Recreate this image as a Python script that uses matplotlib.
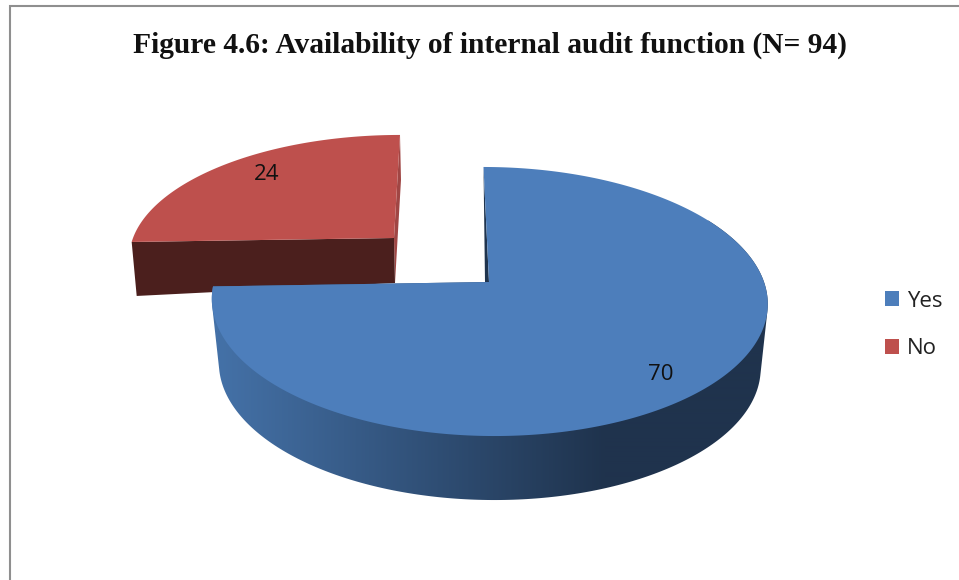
import numpy as np
import matplotlib
matplotlib.use("Agg")
import matplotlib.pyplot as plt
from matplotlib.patches import Patch, Polygon

# Survey responses
categories = ["Yes", "No"]
responses = [70, 24]
title_text = "Figure 4.6: Availability of internal audit function (N= 94)"

TOP_COLORS = ["#4D7EBB", "#BE504D"]
RED_FRONT = "#4B1F1D"
RED_EDGE = "#A04644"
BLUE_EDGE = "#1F344E"
FRAME = "#8F8F8F"

# Projection of each exploded slice: a tilted disc seen in perspective.
# Slice order follows `categories`; "low" entries describe the lower face.
VIEWS = [
    dict(cx=489, cy=282, bx=275, ay=131.7, shear=-5.5, k=0.145,
         low_cx=489, low_cy=346, low_bx=268, tilt=0),
    dict(cx=394, cy=238, bx=261, ay=118, shear=6, k=0.145,
         low_cx=395, low_cy=283, low_bx=257, tilt=9),
]
LABEL_SHIFT = [(-3, 13), (8, -3)]


def project(view, theta, radius=1.0, z=0.0):
    """Map a clockwise-from-north angle on the pie to figure pixels."""
    u = radius * np.sin(theta)
    v = radius * np.cos(theta)
    w = 1 + view["k"] * v
    cx = view["cx"] + (view["low_cx"] - view["cx"]) * z
    cy = view["cy"] + (view["low_cy"] - view["cy"]) * z
    bx = view["bx"] + (view["low_bx"] - view["bx"]) * z
    x = cx + bx * u / w + view["shear"] * v
    y = cy - view["ay"] * v / w + z * view["tilt"] * (-u)
    return np.array([x, y]).T


def convex_hull(points):
    """Monotone-chain hull, returned as a closed-loop vertex list."""
    pts = sorted(map(tuple, points))

    def half(seq):
        chain = []
        for p in seq:
            while len(chain) >= 2:
                ax_, ay_ = chain[-2]
                bx_, by_ = chain[-1]
                if (bx_ - ax_) * (p[1] - ay_) - (by_ - ay_) * (p[0] - ax_) > 0:
                    break
                chain.pop()
            chain.append(p)
        return chain[:-1]

    return half(pts) + half(pts[::-1])


fig = plt.figure(figsize=(9.59, 5.80), dpi=100, facecolor="white")
ax = fig.add_axes([0, 0, 1, 1])

# Outer chart frame (open to the right and bottom)
ax.plot([9.5, 9.5, 959], [580, 5.5, 5.5], color=FRAME, lw=1.5,
        solid_joinstyle="miter")

fractions = np.array(responses) / sum(responses)
edges = np.concatenate([[0], np.cumsum(fractions)]) * 2 * np.pi
yes_start, yes_end, no_end = edges
view_yes, view_no = VIEWS

# "No" slice: thin side sliver, cut face and top
apex_no = project(view_no, 0.0, 0.0, 0.0)
apex_no_low = project(view_no, 0.0, 0.0, 1.0)
ax.add_patch(Polygon([project(view_no, no_end), apex_no, apex_no_low,
                      project(view_no, no_end, 1.0, 1.0)],
                     closed=True, fc=RED_EDGE, ec="none", zorder=2))
ax.add_patch(Polygon([project(view_no, yes_end), apex_no, apex_no_low,
                      project(view_no, yes_end, 1.0, 1.0)],
                     closed=True, fc=RED_FRONT, ec="none", zorder=3))
arc = np.linspace(yes_end, no_end, 120)
ax.add_patch(Polygon(np.vstack([apex_no, project(view_no, arc)]),
                     closed=True, fc=TOP_COLORS[1], ec="none", zorder=4))

# "Yes" slice: curved wall with a horizontal shading ramp. The wall silhouette
# is the hull of both rims, routed through the apex so the opening stays empty.
apex_yes = project(view_yes, 0.0, 0.0, 0.0)
wall = np.linspace(np.radians(60), yes_end, 260)
upper = project(view_yes, wall)
lower = project(view_yes, wall, 1.0, 1.0)
hull = convex_hull(np.vstack([upper, lower]))
first, last = tuple(upper[0]), tuple(upper[-1])
i = hull.index(first)
hull = hull[i:] + hull[:i]
if hull[-1] == last:
    outline = hull + [tuple(apex_yes)]
else:
    outline = [hull[0], tuple(apex_yes)] + hull[1:]
wall_patch = Polygon(outline, closed=True, fc="none", ec="none", zorder=5)
ax.add_patch(wall_patch)
ramp_start = np.array([0x44, 0x71, 0xA7]) / 255
ramp_end = np.array([0x1F, 0x33, 0x4D]) / 255
ramp_x = np.linspace(200, 780, 580)
ramp_f = np.clip((ramp_x - 219) / (605 - 219), 0, 1)[None, :, None]
ramp = ramp_start[None, None, :] + (ramp_end - ramp_start)[None, None, :] * ramp_f
shade = ax.imshow(ramp, extent=(200, 780, 520, 200), aspect="auto", zorder=5,
                  interpolation="bilinear")
shade.set_clip_path(wall_patch)

# Dark edge of the cut face beside the opening
ax.add_patch(Polygon([project(view_yes, yes_start), apex_yes,
                      apex_yes + np.array([-4.0, 0.0])],
                     closed=True, fc=BLUE_EDGE, ec="none", zorder=6))

arc = np.linspace(yes_start, yes_end, 300)
ax.add_patch(Polygon(np.vstack([apex_yes, project(view_yes, arc)]),
                     closed=True, fc=TOP_COLORS[0], ec="none", zorder=7))

# Value labels at each slice's mid-angle
for view, value, a, b, shift in zip(VIEWS, responses, edges[:-1], edges[1:],
                                    LABEL_SHIFT):
    x, y = project(view, (a + b) / 2, 0.8)
    ax.text(x + shift[0], y + shift[1], str(value), ha="center", va="center",
            fontsize=16, family="Open Sans", color="#111111", zorder=8)

ax.text(489.5, 45, title_text, ha="center", va="center", fontsize=21.25,
        family="Liberation Serif", fontweight="bold", color="#111111")

handles = [Patch(fc=c, ec="none", label=l) for c, l in zip(TOP_COLORS, categories)]
ax.legend(handles=handles, loc="center left", bbox_to_anchor=(878, 325),
          bbox_transform=ax.transData, frameon=False,
          handlelength=0.66, handleheight=0.66, handletextpad=0.36,
          labelspacing=1.2, borderpad=0.3, borderaxespad=0,
          prop=dict(family="Open Sans", size=16), labelcolor="#222222")

ax.set_xlim(0, 959)
ax.set_ylim(580, 0)
ax.axis("off")

fig.savefig("out.png", dpi=100)
